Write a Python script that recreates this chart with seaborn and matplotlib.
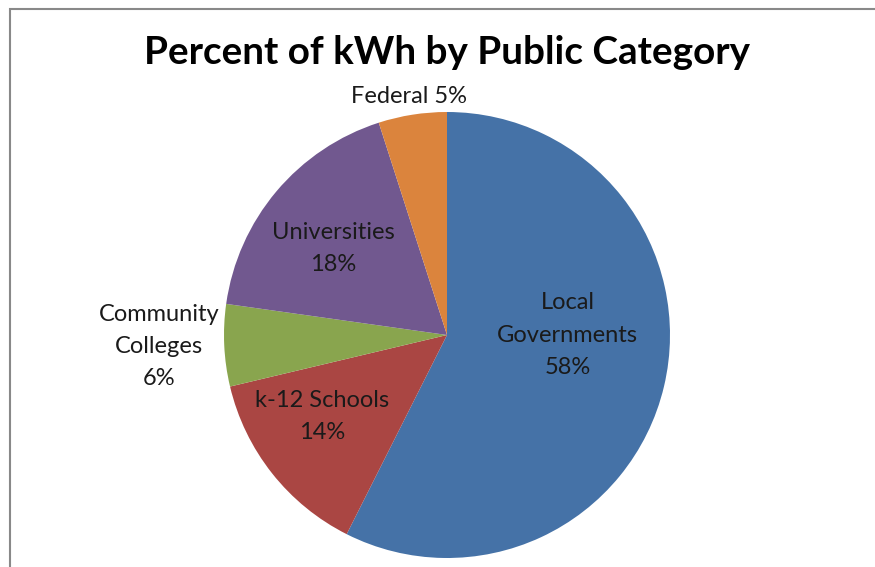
import matplotlib
matplotlib.use("Agg")
import matplotlib.pyplot as plt
import matplotlib.patches as mpatches
import seaborn as sns

categories = ["Local\nGovernments", "k-12 Schools", "Community\nColleges", "Universities", "Federal"]
percents = [58, 14, 6, 18, 5]
colors = ["#4572A7", "#AA4643", "#89A54E", "#71588F", "#DB843D"]

# label spots relative to the pie (radius 1)
label_xy = [(0.54, 0.0), (-0.56, -0.365), (-1.29, -0.05), (-0.51, 0.39), (-0.17, 1.07)]

sns.set_theme(style="white")
plt.rcParams["font.family"] = ["Lato", "DejaVu Sans"]

fig = plt.figure(figsize=(8.75, 5.67), dpi=100)
ax = fig.add_axes([224 / 875, 9 / 567, 446 / 875, 446 / 567])

wedges, _ = ax.pie(percents, colors=colors, startangle=90, counterclock=False,
                   radius=1, wedgeprops={"linewidth": 0})
ax.set_xlim(-1, 1)
ax.set_ylim(-1, 1)
ax.set_axis_off()

for name, pct, (x, y) in zip(categories, percents, label_xy):
    if name == "Federal":
        txt = f"{name} {pct}%"
    else:
        txt = f"{name}\n{pct}%"
    ax.text(x, y, txt, ha="center", va="center", fontsize=17,
            color="#1a1a1a", linespacing=1.65)

fig.text(447 / 875, 1 - 53 / 567, "Percent of kWh by Public Category",
         ha="center", va="center", fontsize=27.8, fontweight="bold", color="black")

frame = mpatches.Rectangle((9.5 / 875, -0.1), 2, 1 - 8.5 / 567 + 0.1,
                           transform=fig.transFigure, fill=False,
                           edgecolor="#898989", linewidth=1.5)
fig.patches.append(frame)

fig.savefig("out.png", dpi=100)
